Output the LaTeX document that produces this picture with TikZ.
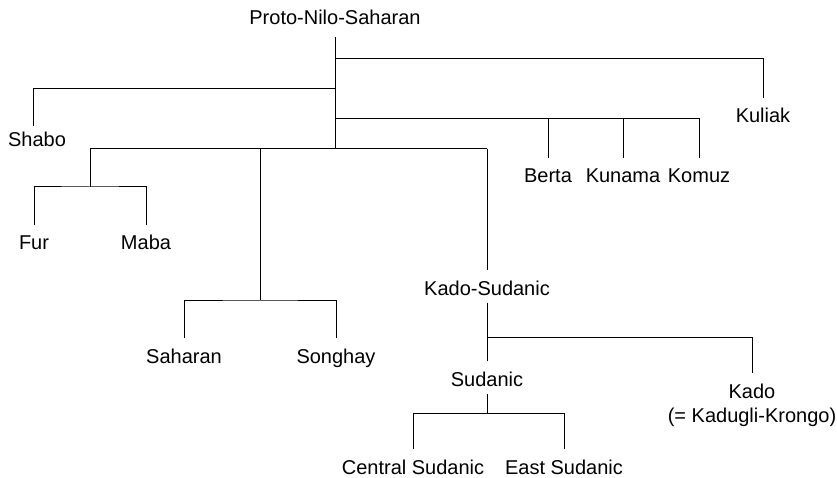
\documentclass[tikz,border=0pt]{standalone}
\usepackage{fontspec}
\setmainfont{Liberation Sans}
\tikzset{
  lang/.style={inner sep=0pt,anchor=base,text height=25pt,text depth=8pt,
    font=\fontsize{20}{24}\selectfont},
  branch/.style={line width=1pt}
}
\begin{document}
\begin{tikzpicture}[x=1pt,y=-1pt]
  \useasboundingbox (0,0) rectangle (837,478);
  % languages
  \node[lang] (pns) at (335,25) {Proto-Nilo-Saharan};
  \node[lang] (kuliak) at (763,123) {Kuliak};
  \node[lang] (shabo) at (37,147) {Shabo};
  \node[lang] (berta) at (548,183) {Berta};
  \node[lang] (kunama) at (623,183) {Kunama};
  \node[lang] (komuz) at (699,183) {Komuz};
  \node[lang] (fur) at (34,250) {Fur};
  \node[lang] (maba) at (146,250) {Maba};
  \node[lang] (kadosud) at (487,295) {Kado-Sudanic};
  \node[lang] (saharan) at (184,363) {Saharan};
  \node[lang] (songhay) at (336,363) {Songhay};
  \node[lang] (sudanic) at (487,386) {Sudanic};
  \node[lang] (kado) at (752,398) {Kado};
  \node[lang] (kadokr) at (752,422) {(= Kadugli-Krongo)};
  \node[lang] (censud) at (413,474) {Central Sudanic};
  \node[lang] (eastsud) at (564,474) {East Sudanic};
  % junctions
  \coordinate (jkul) at (335,59);
  \coordinate (jsha) at (335,89);
  \coordinate (jber) at (335,119);
  \coordinate (jmain) at (335,149);
  \coordinate (jfm) at (90,149);
  \coordinate (jss) at (260,149);
  \coordinate (jks) at (487,149);
  \coordinate (jkado) at (487,337);
  % branches
  \draw[branch] ([yshift=-4pt]pns.south) -- (jmain);
  \draw[branch] (jkul) -| (kuliak.north);
  \draw[branch] (jsha) -| ([xshift=-4pt,yshift=-4pt]shabo.north);
  \draw[branch] (jber) -| (komuz.north);
  \draw[branch] (berta.north) -- (berta.north |- jber);
  \draw[branch] (kunama.north) -- (kunama.north |- jber);
  \draw[branch] (jfm) -- (jks);
  \draw[branch] (jfm) -- ++(0,38) coordinate (jfm2);
  \draw[branch] (fur.north) |- (jfm2) -| (maba.north);
  \draw[branch] (jss) -- ++(0,151) coordinate (jss2);
  \draw[branch] (saharan.north) |- (jss2) -| (songhay.north);
  \draw[branch] (jks) -- (kadosud.north);
  \draw[branch] (kadosud.south) -- (sudanic.north);
  \draw[branch] (jkado) -| (kado.north);
  \draw[branch] (sudanic.south) -- ++(0,19) coordinate (jsud);
  \draw[branch] (censud.north) |- (jsud) -| (eastsud.north);
\end{tikzpicture}
\end{document}
